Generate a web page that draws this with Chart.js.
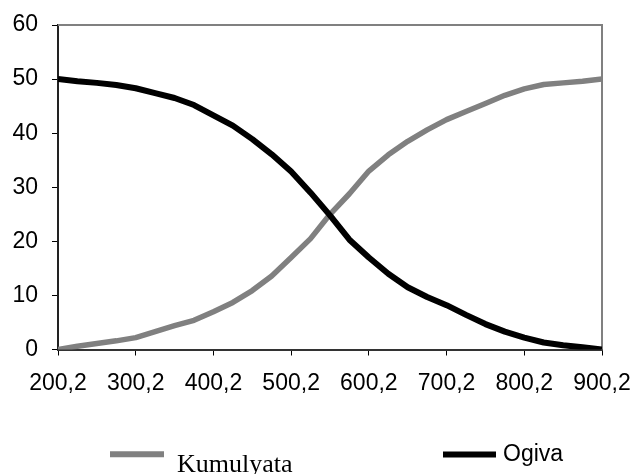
<!DOCTYPE html>
<html><head><meta charset="utf-8">
<script src="https://cdn.jsdelivr.net/npm/chart.js@4"></script>
<style>html,body{margin:0;padding:0;background:#fff}#wrap{width:638px;height:474px;position:relative}</style>
</head><body><div id="wrap"><canvas id="c" width="638" height="474"></canvas></div>
<script>
const xValues = [200.2,225.2,250.2,275.2,300.2,325.2,350.2,375.2,400.2,425.2,450.2,475.2,500.2,525.2,550.2,575.2,600.2,625.2,650.2,675.2,700.2,725.2,750.2,775.2,800.2,825.2,850.2,875.2,900.2];
const kumulyata = [0,0.6,1.1,1.6,2.2,3.3,4.4,5.4,7.0,8.7,10.9,13.6,17.0,20.5,25.0,28.8,33.0,36.0,38.5,40.6,42.5,44.0,45.5,47.0,48.2,49.0,49.3,49.6,50.0];
const ogiva = [50,49.6,49.3,48.9,48.3,47.4,46.5,45.2,43.3,41.4,38.9,36.1,32.9,29.0,24.8,20.3,17.0,14.0,11.5,9.7,8.2,6.4,4.7,3.3,2.2,1.3,0.8,0.4,0];
const xTickValues = [200.2,300.2,400.2,500.2,600.2,700.2,800.2,900.2];
const xTickLabels = ['200,2','300,2','400,2','500,2','600,2','700,2','800,2','900,2'];
const seriesNames = ['Kumulyata','Ogiva'];
const seriesColors = ['#808080','#000000'];

const toPts = ys => ys.map((y,i)=>({x:xValues[i], y:y}));

const frame = {
  id:'frame',
  beforeDatasetsDraw(chart){
    const a = chart.chartArea, ctx = chart.ctx;
    ctx.save();
    ctx.strokeStyle = '#808080'; ctx.lineWidth = 2;
    ctx.beginPath();
    ctx.moveTo(a.left, a.top); ctx.lineTo(a.right, a.top); ctx.lineTo(a.right, a.bottom);
    ctx.stroke();
    ctx.restore();
  }
};
const legendPos = [
  {x0:110, x1:164, ly:454.3, tx:177, ty:472, font:'26px "Liberation Serif"'},
  {x0:443, x1:496, ly:454.5, tx:503, ty:461, font:'23px "Liberation Sans"'}
];
const customLegend = {
  id:'customLegend',
  afterDraw(chart){
    const ctx = chart.ctx;
    ctx.save();
    chart.data.datasets.forEach((ds,i)=>{
      const p = legendPos[i];
      ctx.strokeStyle = ds.borderColor; ctx.lineWidth = 6; ctx.lineCap='butt';
      ctx.beginPath(); ctx.moveTo(p.x0,p.ly); ctx.lineTo(p.x1,p.ly); ctx.stroke();
      ctx.fillStyle = '#000'; ctx.font = p.font; ctx.textBaseline='alphabetic'; ctx.textAlign='left';
      ctx.fillText(ds.label, p.tx, p.ty);
    });
    ctx.restore();
  }
};

new Chart(document.getElementById('c'), {
  type:'line',
  data:{datasets:[
    {label:seriesNames[0], data:toPts(kumulyata), borderColor:seriesColors[0], backgroundColor:seriesColors[0], borderWidth:5.5, pointRadius:0, tension:0, borderJoinStyle:'round', fill:false, order:1},
    {label:seriesNames[1], data:toPts(ogiva), borderColor:seriesColors[1], backgroundColor:seriesColors[1], borderWidth:6, pointRadius:0, tension:0, borderJoinStyle:'round', fill:false, order:0}
  ]},
  options:{
    responsive:false, animation:false, devicePixelRatio:1,
    layout:{padding:{top:25, right:36, left:0, bottom:0}},
    plugins:{legend:{display:false}, tooltip:{enabled:false}},
    scales:{
      x:{type:'linear', min:200.2, max:900.2,
        afterBuildTicks:s=>{ s.ticks = xTickValues.map(v=>({value:v})); },
        afterFit:s=>{ s.height = 124.5; s.paddingLeft = 0; s.paddingRight = 0; },
        ticks:{autoSkip:false, maxRotation:0, minRotation:0, padding:14, color:'#000',
          font:{family:'"Liberation Sans"', size:23},
          callback:(v,i)=>xTickLabels[i]},
        grid:{display:true, drawOnChartArea:false, drawTicks:true, tickLength:6, color:'#000', lineWidth:1},
        border:{display:true, color:'#333', width:2}
      },
      y:{min:0, max:60,
        afterFit:s=>{ s.width = 58; s.paddingTop = 0; s.paddingBottom = 0; },
        ticks:{stepSize:10, padding:14, color:'#000', font:{family:'"Liberation Sans"', size:23}},
        grid:{display:true, drawOnChartArea:false, drawTicks:true, tickLength:6, color:'#000', lineWidth:1},
        border:{display:true, color:'#222', width:2}
      }
    }
  },
  plugins:[frame, customLegend]
});
</script></body></html>
